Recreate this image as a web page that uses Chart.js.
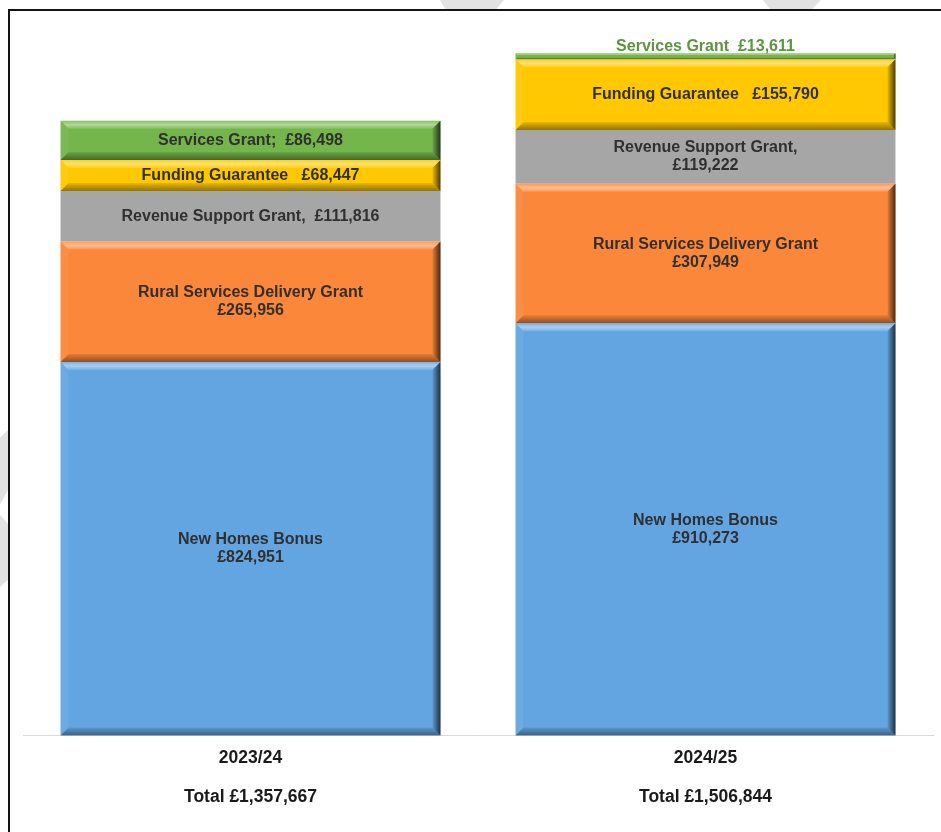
<!DOCTYPE html>
<html>
<head>
<meta charset="utf-8">
<script src="https://cdn.jsdelivr.net/npm/chart.js@4"></script>
<style>
  html, body { margin: 0; padding: 0; background: #fff; overflow: hidden; }
  #wrap { position: relative; width: 941px; height: 832px; }
  #frame { position: absolute; left: 8px; top: 9px; width: 1000px; height: 900px;
           border-left: 2px solid #141414; border-top: 2px solid #141414; }
  .mark { position: absolute; background: #e2e2e2; }
  canvas { position: absolute; left: 0; top: 0; }
</style>
</head>
<body>
<div id="wrap">
  <div class="mark" style="left:440px;top:0;width:64px;height:9px;clip-path:polygon(0 0,100% 0,88% 100%,8% 100%)"></div>
  <div class="mark" style="left:763px;top:0;width:58px;height:9px;clip-path:polygon(0 0,100% 0,85% 100%,12% 100%)"></div>
  <div class="mark" style="left:0;top:430px;width:8px;height:75px;clip-path:polygon(0 10%,100% 0,100% 80%,0 100%)"></div>
  <div class="mark" style="left:0;top:515px;width:8px;height:72px;clip-path:polygon(0 0,100% 12%,100% 90%,0 100%)"></div>
  <div id="frame"></div>
  <canvas id="chart" width="941" height="832"></canvas>
</div>
<script>
// categories and totals (totals as printed, they differ by rounding)
const years = ['2023/24', '2024/25'];
const totals = [1357667, 1506844];

// series, bottom to top
const seriesNames = ['New Homes Bonus', 'Rural Services Delivery Grant', 'Revenue Support Grant', 'Funding Guarantee', 'Services Grant'];
const newHomesBonus = [824951, 910273];
const ruralServices = [265956, 307949];
const revenueSupport = [111816, 119222];
const fundingGuarantee = [68447, 155790];
const servicesGrant = [86498, 13611];

// how each data label is written ({n} = series name, {v} = value)
const labelFormats = [
    ['{n}\n{v}', '{n}\n{v}'],
    ['{n}\n{v}', '{n}\n{v}'],
    ['{n},  {v}', '{n},\n{v}'],
    ['{n}   {v}', '{n}   {v}'],
    ['{n};  {v}', '{n}  {v}']
];

const seriesColors = ['#63a5e0', '#fb873a', '#a6a6a6', '#ffc800', '#74b54c'];
const bevelled = [true, true, false, true, true];

const FONT = 'Arial, "Liberation Sans", sans-serif';

function money(v) {
    return '£' + String(v).replace(/\B(?=(\d{3})+(?!\d))/g, ',');
}

const allValues = [newHomesBonus, ruralServices, revenueSupport, fundingGuarantee, servicesGrant];

const datasets = allValues.map((vals, i) => ({
    label: seriesNames[i],
    data: vals,
    backgroundColor: seriesColors[i],
    borderWidth: 0,
    barPercentage: 0.835,
    categoryPercentage: 1.0,
    bevel: bevelled[i]
}));

const tickLabels = years.map((y, i) => [y, '', 'Total ' + money(totals[i])]);

function poly(c, pts, fill) {
    c.beginPath();
    c.moveTo(pts[0][0], pts[0][1]);
    for (let k = 1; k < pts.length; k++) c.lineTo(pts[k][0], pts[k][1]);
    c.closePath();
    c.fillStyle = fill;
    c.fill();
}

// Excel style bevelled edges on top of every bar
const bevelPlugin = {
    id: 'bevel',
    afterDatasetsDraw(chart) {
        const c = chart.ctx;
        c.save();
        chart.data.datasets.forEach((ds, di) => {
            if (!ds.bevel) return;
            chart.getDatasetMeta(di).data.forEach(bar => {
                const p = bar.getProps(['x', 'y', 'base', 'width'], true);
                const l = p.x - p.width / 2, r = p.x + p.width / 2;
                const t = Math.min(p.y, p.base), b = Math.max(p.y, p.base);
                const d = Math.min(8, (b - t) * 0.3);

                let g = c.createLinearGradient(0, t, 0, t + d);
                g.addColorStop(0, 'rgba(255,255,255,0.15)');
                g.addColorStop(0.5, 'rgba(255,255,255,0.45)');
                g.addColorStop(1, 'rgba(255,255,255,0.12)');
                poly(c, [[l, t], [r, t], [r - d, t + d], [l + d, t + d]], g);

                poly(c, [[l, t], [l + d, t + d], [l + d, b - d], [l, b]], 'rgba(255,255,255,0.06)');

                g = c.createLinearGradient(0, b - d, 0, b);
                g.addColorStop(0, 'rgba(0,0,0,0.08)');
                g.addColorStop(1, 'rgba(0,0,0,0.42)');
                poly(c, [[l, b], [r, b], [r - d, b - d], [l + d, b - d]], g);

                g = c.createLinearGradient(r - d, 0, r, 0);
                g.addColorStop(0, 'rgba(0,0,0,0.08)');
                g.addColorStop(1, 'rgba(0,0,0,0.7)');
                poly(c, [[r, t], [r, b], [r - d, b - d], [r - d, t + d]], g);
            });
        });
        c.restore();
    }
};

// data labels in the middle of each segment (above if the segment is too thin)
const labelPlugin = {
    id: 'segLabels',
    afterDatasetsDraw(chart) {
        const c = chart.ctx;
        c.save();
        c.font = 'bold 16px ' + FONT;
        c.textAlign = 'center';
        c.textBaseline = 'middle';
        chart.data.datasets.forEach((ds, di) => {
            chart.getDatasetMeta(di).data.forEach((bar, i) => {
                const p = bar.getProps(['x', 'y', 'base'], true);
                const t = Math.min(p.y, p.base), b = Math.max(p.y, p.base);
                const text = labelFormats[di][i].replace('{n}', ds.label).replace('{v}', money(ds.data[i]));
                const lines = text.split('\n');
                let cy;
                if (b - t < 20) {
                    c.fillStyle = '#5b963f';
                    cy = t - 7;
                } else {
                    c.fillStyle = '#303030';
                    cy = (t + b) / 2;
                }
                lines.forEach((ln, k) => {
                    c.fillText(ln, p.x, cy + (k - (lines.length - 1) / 2) * 18);
                });
            });
        });
        c.restore();
    }
};

new Chart(document.getElementById('chart'), {
    type: 'bar',
    data: { labels: tickLabels, datasets: datasets },
    options: {
        responsive: false,
        animation: false,
        layout: { padding: { top: 11, left: 23, right: 8, bottom: 20 } },
        plugins: {
            legend: { display: false },
            tooltip: { enabled: false }
        },
        scales: {
            x: {
                stacked: true,
                offset: true,
                grid: { display: false },
                border: { display: true, color: '#d9d9d9', width: 1 },
                ticks: {
                    color: '#1a1a1a',
                    padding: 5,
                    maxRotation: 0,
                    autoSkip: false,
                    font: { family: FONT, size: 17.5, weight: 'bold', lineHeight: 1.115 }
                }
            },
            y: { stacked: true, display: false, min: 0, max: 1600000 }
        }
    },
    plugins: [bevelPlugin, labelPlugin]
});
</script>
</body>
</html>
